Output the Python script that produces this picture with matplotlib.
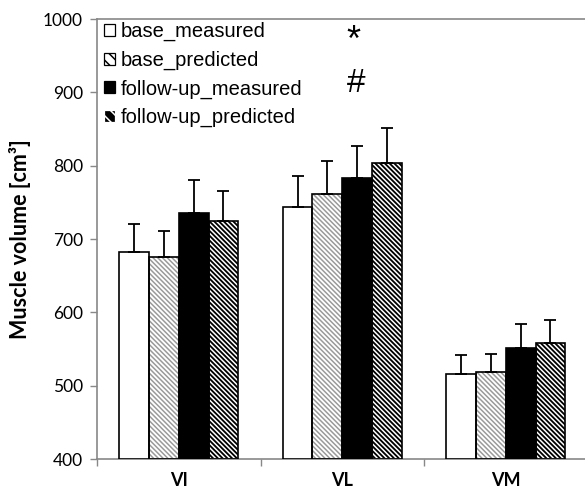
import matplotlib
matplotlib.use("Agg")
import matplotlib.pyplot as plt
from matplotlib.patches import Patch
import numpy as np

# Muscle volume per quadriceps head, baseline vs follow-up (mean + SD)
muscles = ["VI", "VL", "VM"]
series = ["base_measured", "base_predicted", "follow-up_measured", "follow-up_predicted"]
means = {
    "base_measured":       [682, 743, 516],
    "base_predicted":      [675, 761, 518],
    "follow-up_measured":  [736, 783, 551],
    "follow-up_predicted": [724, 804, 558],
}
sds = {
    "base_measured":       [38, 43, 26],
    "base_predicted":      [36, 46, 25],
    "follow-up_measured":  [44, 44, 33],
    "follow-up_predicted": [42, 48, 32],
}
y_ticks = [400, 500, 600, 700, 800, 900, 1000]

W, H = 585, 495
fig = plt.figure(figsize=(W / 100, H / 100), dpi=100)
ax = fig.add_axes([97 / W, (H - 459) / H, 490.5 / W, 440 / H])

DENSE = "\\" * 7
styles = {
    "base_measured":       dict(face="white", hatch=None, hcol=None),
    "base_predicted":      dict(face="white", hatch=DENSE, hcol="#9a9a9a"),
    "follow-up_measured":  dict(face="black", hatch=None, hcol=None),
    "follow-up_predicted": dict(face="black", hatch=DENSE, hcol="white"),
}

x = np.arange(len(muscles)) + 0.5
bw = 0.182
offsets = (np.arange(len(series)) - 1.5) * bw

plt.rcParams["hatch.linewidth"] = 1.1
for i, s in enumerate(series):
    st = styles[s]
    xs = x + offsets[i]
    h = np.array(means[s]) - 400
    if st["hatch"]:
        ax.bar(xs, h, bw, bottom=400, color=st["face"], edgecolor=st["hcol"],
               hatch=st["hatch"], linewidth=0, zorder=2)
        ax.bar(xs, h, bw, bottom=400, fill=False, edgecolor="black",
               linewidth=1.2, zorder=3)
    else:
        ax.bar(xs, h, bw, bottom=400, color=st["face"], edgecolor="black",
               linewidth=1.2, zorder=3)
    ax.errorbar(xs, means[s], yerr=[np.zeros(len(muscles)), sds[s]], fmt="none",
                ecolor="black", elinewidth=1.3, capsize=4, capthick=1.3, zorder=4)

# legend swatches
leg_handles = []
for s in series:
    st = styles[s]
    leg_handles.append(Patch(facecolor=st["face"], edgecolor="black",
                             hatch="\\\\\\" if st["hatch"] else None,
                             linewidth=0.9, label=s))

leg = fig.legend(handles=leg_handles, loc="upper left",
                 bbox_to_anchor=(104 / W, 1 - 22 / H), frameon=False,
                 prop={"family": ["Liberation Sans", "DejaVu Sans"], "size": 14.5},
                 handlelength=0.55, handleheight=0.55, handletextpad=0.3,
                 labelspacing=0.47, borderpad=0, borderaxespad=0)
for hnd, s in zip(leg.legend_handles, series):
    if s == "follow-up_predicted":
        hnd.set_edgecolor("white")

fig.text(353 / W, 1 - 41 / H, "*", ha="center", va="center", fontsize=26,
         family=["Liberation Sans", "DejaVu Sans"])
fig.text(356 / W, 1 - 84 / H, "#", ha="center", va="center", fontsize=24,
         family=["Liberation Sans", "DejaVu Sans"])

ax.set_xlim(0, 3)
ax.set_ylim(400, 1000)
ax.set_yticks(y_ticks)
ax.set_yticklabels([str(v) for v in y_ticks], family=["Lato", "DejaVu Sans"], fontsize=12.5)
ax.set_xticks([0, 1, 2, 3])
ax.set_xticklabels([])
ax.set_xticks(x, minor=True)
ax.set_xticklabels(muscles, minor=True, family=["Lato", "DejaVu Sans"],
                   fontsize=13, fontweight="bold")
ax.tick_params(axis="x", which="minor", length=0, pad=9)
ax.tick_params(axis="x", which="major", length=5, color="#888888", width=1)
ax.tick_params(axis="y", length=5, color="#888888", width=1, pad=5)

for side in ["left", "bottom", "top"]:
    ax.spines[side].set_color("#888888")
    ax.spines[side].set_linewidth(1.2)
ax.spines["right"].set_visible(False)

ax.set_ylabel("Muscle volume [cm³]", family=["Lato", "DejaVu Sans"], fontsize=15.5,
              fontweight="bold", labelpad=9)

fig.savefig("out.png", dpi=100)
